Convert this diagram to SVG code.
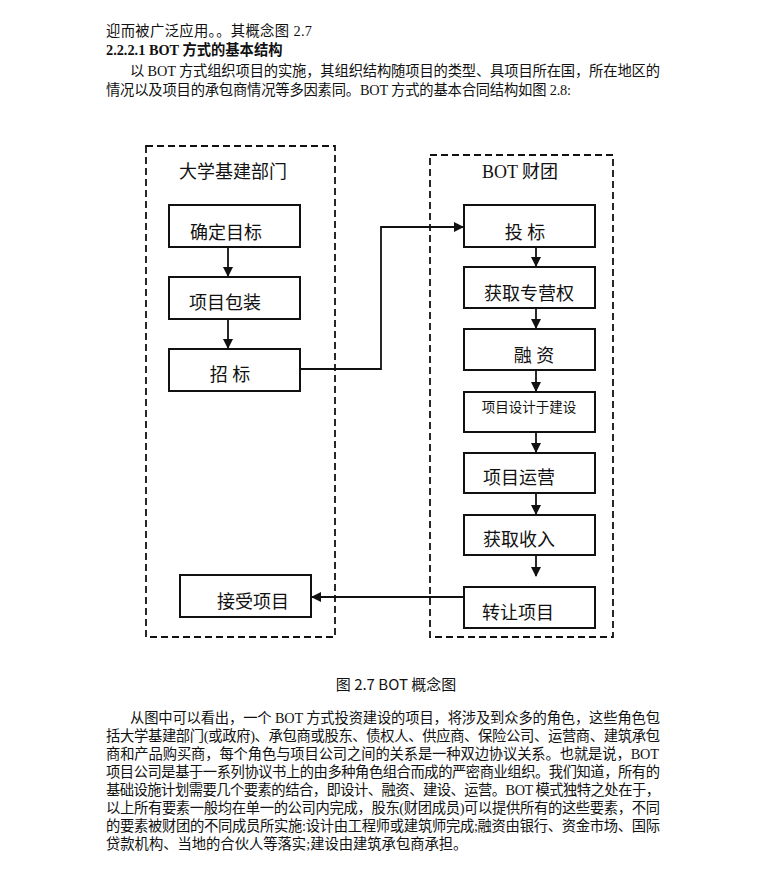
<svg xmlns="http://www.w3.org/2000/svg" width="783" height="879" viewBox="0 0 783 879">
<style>
.t{font-family:"Liberation Serif","Noto Sans CJK SC",serif;font-size:14.3px;fill:#111}
.b{font-weight:bold}
.n{font-family:"Liberation Serif","Noto Sans CJK SC",serif;font-size:18px;fill:#111}
.s{font-size:13.5px}
.box{fill:#fff;stroke:#111;stroke-width:2}
.dash{fill:none;stroke:#111;stroke-width:1.8;stroke-dasharray:7 4}
.ln{fill:none;stroke:#111;stroke-width:1.8}
.cap{font-family:"Noto Sans CJK SC","Liberation Sans",sans-serif;font-size:15px;fill:#111}
</style>
<defs>
<marker id="ah" markerWidth="10" markerHeight="10" refX="9" refY="5" orient="auto" markerUnits="userSpaceOnUse">
<path d="M0,0 L10,5 L0,10 Z" fill="#111"/>
</marker>
</defs>
<rect width="783" height="879" fill="#fff"/>
<g id="text-top">
<text class="t" x="106" y="36" textLength="206" lengthAdjust="spacing">迎而被广泛应用。。其概念图 2.7</text>
<text class="t b" x="106" y="55">2.2.2.1 BOT 方式的基本结构</text>
<text class="t" x="130" y="76" textLength="530" lengthAdjust="spacing">以 BOT 方式组织项目的实施，其组织结构随项目的类型、具项目所在国，所在地区的</text>
<text class="t" x="106" y="95" textLength="465" lengthAdjust="spacing">情况以及项目的承包商情况等多因素同。BOT 方式的基本合同结构如图 2.8:</text>
</g>
<g id="group-left">
<rect class="dash" x="146" y="146" width="189" height="491"/>
<text class="n" x="233" y="172" text-anchor="middle" dominant-baseline="central">大学基建部门</text>
</g>
<g id="group-right">
<rect class="dash" x="430" y="155" width="183" height="482"/>
<text class="n" x="520" y="172" text-anchor="middle" dominant-baseline="central">BOT 财团</text>
</g>
<g id="connectors">
<line class="ln" x1="228" y1="247" x2="228" y2="276" marker-end="url(#ah)"/>
<line class="ln" x1="228" y1="319" x2="228" y2="348" marker-end="url(#ah)"/>
<polyline class="ln" points="300,369 381,369 381,227 463,227" marker-end="url(#ah)"/>
<line class="ln" x1="536" y1="247" x2="536" y2="266" marker-end="url(#ah)"/>
<line class="ln" x1="536" y1="308" x2="536" y2="328" marker-end="url(#ah)"/>
<line class="ln" x1="536" y1="370" x2="536" y2="391" marker-end="url(#ah)"/>
<line class="ln" x1="536" y1="432" x2="536" y2="452" marker-end="url(#ah)"/>
<line class="ln" x1="536" y1="493" x2="536" y2="514" marker-end="url(#ah)"/>
<line class="ln" x1="536" y1="555" x2="536" y2="576" marker-end="url(#ah)"/>
<line class="ln" x1="464" y1="597" x2="312" y2="597" marker-end="url(#ah)"/>
</g>
<g id="n-queding"><rect class="box" x="169" y="205" width="131" height="42"/><text class="n" x="226" y="233" text-anchor="middle" dominant-baseline="central">确定目标</text></g>
<g id="n-baozhuang"><rect class="box" x="169" y="277" width="131" height="42"/><text class="n" x="225" y="303" text-anchor="middle" dominant-baseline="central">项目包装</text></g>
<g id="n-zhaobiao"><rect class="box" x="169" y="349" width="131" height="42"/><text class="n" x="230" y="375" text-anchor="middle" dominant-baseline="central">招 标</text></g>
<g id="n-jieshou"><rect class="box" x="180" y="575" width="131" height="42"/><text class="n" x="253" y="602" text-anchor="middle" dominant-baseline="central">接受项目</text></g>
<g id="n-toubiao"><rect class="box" x="464" y="205" width="131" height="42"/><text class="n" x="525" y="233" text-anchor="middle" dominant-baseline="central">投 标</text></g>
<g id="n-zhuanying"><rect class="box" x="464" y="267" width="131" height="41"/><text class="n" x="529" y="294" text-anchor="middle" dominant-baseline="central">获取专营权</text></g>
<g id="n-rongzi"><rect class="box" x="464" y="329" width="131" height="41"/><text class="n" x="534" y="356" text-anchor="middle" dominant-baseline="central">融 资</text></g>
<g id="n-sheji"><rect class="box" x="464" y="392" width="131" height="40"/><text class="n s" x="529" y="407" text-anchor="middle" dominant-baseline="central">项目设计于建设</text></g>
<g id="n-yunying"><rect class="box" x="464" y="453" width="131" height="40"/><text class="n" x="519" y="478" text-anchor="middle" dominant-baseline="central">项目运营</text></g>
<g id="n-shouru"><rect class="box" x="464" y="515" width="131" height="40"/><text class="n" x="519" y="540" text-anchor="middle" dominant-baseline="central">获取收入</text></g>
<g id="n-zhuanrang"><rect class="box" x="464" y="587" width="131" height="41"/><text class="n" x="518" y="613" text-anchor="middle" dominant-baseline="central">转让项目</text></g>
<text class="cap" x="396" y="683" text-anchor="middle" dominant-baseline="central">图 2.7 BOT 概念图</text>
<g id="text-bottom">
<text class="t" x="130" y="723" textLength="530" lengthAdjust="spacing">从图中可以看出，一个 BOT 方式投资建设的项目，将涉及到众多的角色，这些角色包</text>
<text class="t" x="106" y="741" textLength="554" lengthAdjust="spacing">括大学基建部门(或政府)、承包商或股东、债权人、供应商、保险公司、运营商、建筑承包</text>
<text class="t" x="106" y="759" textLength="553" lengthAdjust="spacing">商和产品购买商，每个角色与项目公司之间的关系是一种双边协议关系。也就是说，BOT</text>
<text class="t" x="106" y="777" textLength="554" lengthAdjust="spacing">项目公司是基于一系列协议书上的由多种角色组合而成的严密商业组织。我们知道，所有的</text>
<text class="t" x="106" y="795" textLength="554" lengthAdjust="spacing">基础设施计划需要几个要素的结合，即设计、融资、建设、运营。BOT 模式独特之处在于，</text>
<text class="t" x="106" y="813" textLength="554" lengthAdjust="spacing">以上所有要素一般均在单一的公司内完成，股东(财团成员)可以提供所有的这些要素，不同</text>
<text class="t" x="106" y="831" textLength="554" lengthAdjust="spacing">的要素被财团的不同成员所实施:设计由工程师或建筑师完成;融资由银行、资金市场、国际</text>
<text class="t" x="106" y="849">贷款机构、当地的合伙人等落实;建设由建筑承包商承担。</text>
</g>
</svg>
